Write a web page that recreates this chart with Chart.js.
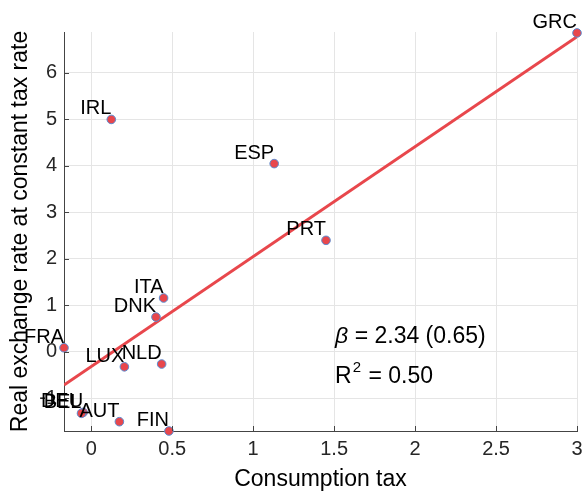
<!DOCTYPE html>
<html>
<head>
<meta charset="utf-8">
<script src="https://cdn.jsdelivr.net/npm/chart.js@4"></script>
<style>
  html, body { margin: 0; padding: 0; background: #fff; }
  #wrap { width: 584px; height: 493px; }
</style>
</head>
<body>
<div id="wrap"><canvas id="chart" width="584" height="493"></canvas></div>
<script>
// ========================
// Data
// ========================
const countries = ['GRC','IRL','ESP','PRT','ITA','DNK','FRA','LUX','NLD','DEU','BEL','AUT','FIN'];
const consumptionTax = [3.0, 0.124, 1.13, 1.45, 0.447, 0.40, -0.168, 0.205, 0.435, -0.05, -0.06, 0.174, 0.48];
const realExRate = [6.86, 5.0, 4.05, 2.40, 1.16, 0.75, 0.09, -0.32, -0.26, -1.30, -1.32, -1.50, -1.70];

// fitted line end points
const fitX = [-0.168, 3.0];
const fitY = [-0.71, 6.78];

const xTicks = [0, 0.5, 1, 1.5, 2, 2.5, 3];
const yTicks = [-1, 0, 1, 2, 3, 4, 5, 6];

const FONT = '"Liberation Sans", Arial, Helvetica, sans-serif';
const RED = '#e8474c';
const BLUE = '#5b8bd0';
const TXT = '#262626';

// country labels: right aligned, just above the dot
const pointLabels = {
  id: 'pointLabels',
  afterDatasetsDraw(chart) {
    const { ctx } = chart;
    const meta = chart.getDatasetMeta(0);
    ctx.save();
    ctx.font = '20px ' + FONT;
    ctx.fillStyle = '#000';
    ctx.textAlign = 'right';
    ctx.textBaseline = 'alphabetic';
    meta.data.forEach((pt, i) => {
      ctx.fillText(countries[i], pt.x, pt.y - 5);
    });
    ctx.restore();
  }
};

// beta / R2 annotation
const statsText = {
  id: 'statsText',
  afterDraw(chart) {
    const { ctx, scales: { x, y } } = chart;
    const px = x.getPixelForValue(1.5) + 1;
    const py = y.getPixelForValue(0.2);
    ctx.save();
    ctx.fillStyle = '#000';
    ctx.textAlign = 'left';
    ctx.textBaseline = 'alphabetic';
    ctx.font = 'italic 23px ' + FONT;
    ctx.fillText('β', px, py);
    const bw = ctx.measureText('β').width;
    ctx.font = '23px ' + FONT;
    ctx.fillText(' = 2.34 (0.65)', px + bw, py);
    const py2 = py + 40;
    ctx.fillText('R', px, py2);
    const rw = ctx.measureText('R').width;
    ctx.font = '15px ' + FONT;
    ctx.fillText('2', px + rw + 1, py2 - 11);
    const sw = ctx.measureText('2').width;
    ctx.font = '23px ' + FONT;
    ctx.fillText(' = 0.50', px + rw + sw + 2, py2);
    ctx.restore();
  }
};

// small inward tick marks on the left and bottom axes
const innerTicks = {
  id: 'innerTicks',
  afterDraw(chart) {
    const { ctx, chartArea: a, scales: { x, y } } = chart;
    ctx.save();
    ctx.strokeStyle = '#444';
    ctx.lineWidth = 1;
    ctx.beginPath();
    yTicks.forEach(v => {
      const p = Math.round(y.getPixelForValue(v)) + 0.5;
      ctx.moveTo(a.left, p); ctx.lineTo(a.left + 5, p);
    });
    xTicks.forEach(v => {
      const p = Math.round(x.getPixelForValue(v)) + 0.5;
      ctx.moveTo(p, a.bottom); ctx.lineTo(p, a.bottom - 5);
    });
    ctx.stroke();
    ctx.restore();
  }
};

new Chart(document.getElementById('chart'), {
  type: 'scatter',
  data: {
    datasets: [
      {
        label: 'countries',
        data: consumptionTax.map((v, i) => ({ x: v, y: realExRate[i] })),
        backgroundColor: RED,
        borderColor: BLUE,
        borderWidth: 1,
        pointRadius: 4.3,
        clip: false
      },
      {
        label: 'fit',
        data: fitX.map((v, i) => ({ x: v, y: fitY[i] })),
        showLine: true,
        borderColor: RED,
        borderWidth: 3,
        pointRadius: 0
      }
    ]
  },
  options: {
    responsive: false,
    animation: false,
    layout: { padding: { top: 32, right: 7, left: 0, bottom: 0 } },
    plugins: { legend: { display: false }, tooltip: { enabled: false } },
    scales: {
      x: {
        min: -0.168, max: 3.0,
        afterBuildTicks: ax => { ax.ticks = xTicks.map(v => ({ value: v })); },
        afterFit: ax => { ax.height = 62; ax.paddingRight = 0; ax.paddingLeft = 0; },
        grid: { color: '#e5e5e5', drawTicks: false },
        border: { display: true, color: '#444' },
        ticks: { color: TXT, padding: 6, font: { family: FONT, size: 20 }, maxRotation: 0,
                 callback: v => String(v) },
        title: { display: true, text: 'Consumption tax', color: '#000',
                 font: { family: FONT, size: 23 }, padding: { top: 0, bottom: 0 } }
      },
      y: {
        min: -1.70, max: 6.88,
        afterBuildTicks: ax => { ax.ticks = yTicks.map(v => ({ value: v })); },
        afterFit: ax => { ax.width = 64; ax.paddingTop = 0; ax.paddingBottom = 0; },
        grid: { color: '#e5e5e5', drawTicks: false },
        border: { display: true, color: '#444' },
        ticks: { color: TXT, padding: 7, font: { family: FONT, size: 20 },
                 callback: v => String(v) },
        title: { display: true, text: 'Real exchange rate at constant tax rate', color: '#000',
                 font: { family: FONT, size: 23 }, padding: { top: 7, bottom: 0 } }
      }
    }
  },
  plugins: [pointLabels, statsText, innerTicks]
});
</script>
</body>
</html>
